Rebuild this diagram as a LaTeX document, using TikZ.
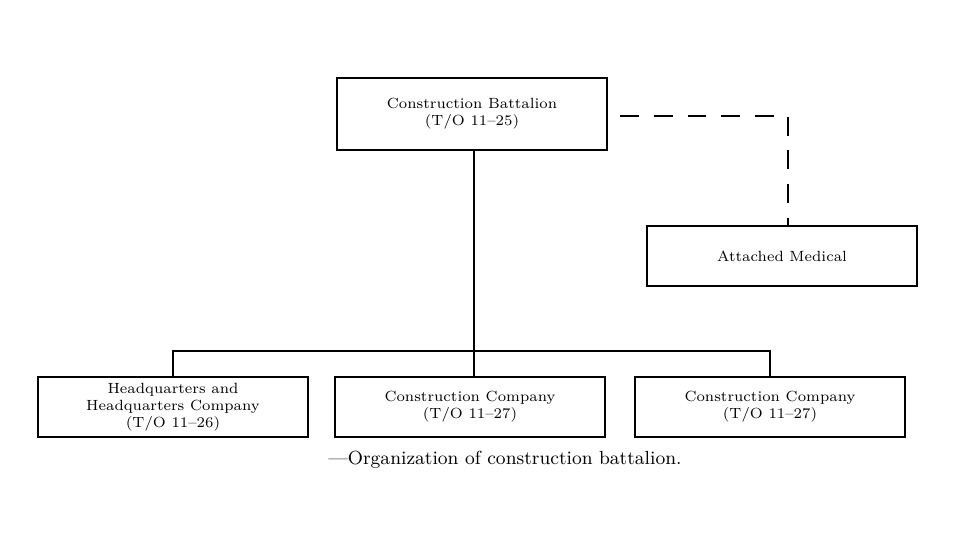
\documentclass[tikz,border=0pt]{standalone}
\usepackage{tikz}
\usetikzlibrary{positioning}
\begin{document}
\begin{tikzpicture}[x=0.016667cm, y=-0.016667cm,
        unit/.style={rectangle, draw, semithick, minimum width=4.5cm, minimum height=1cm, align=center, font=\scriptsize, inner sep=1pt},
        link/.style={semithick},
        dashlink/.style={semithick, dash pattern=on 9pt off 7pt}
    ]
        \useasboundingbox (0,0) rectangle (960,540);
        \node[unit, minimum height=1.2cm] (bn) at (472,114) {Construction Battalion\\(T/O 11--25)};
        \node[unit] (med) at (782,256) {Attached Medical};
        \node[unit] (hq) at (173,407) {Headquarters and\\Headquarters Company\\(T/O 11--26)};
        \node[unit] (coa) at (470,407) {Construction Company\\(T/O 11--27)};
        \node[unit] (cob) at (770,407) {Construction Company\\(T/O 11--27)};
        \coordinate (bus) at (474,351);
        \coordinate (dashstart) at (620,116);
        \draw[link] (bn.south -| bus) -- (bus);
        \draw[link] (hq.north) |- (bus) -| (cob.north);
        \draw[link] (bus) -- (coa.north -| bus);
        \draw[dashlink] (dashstart) -| (med.north -| 788,0);
        \node[font=\small] (caption) at (505,460) {---Organization of construction battalion.};
    \end{tikzpicture}
\end{document}
